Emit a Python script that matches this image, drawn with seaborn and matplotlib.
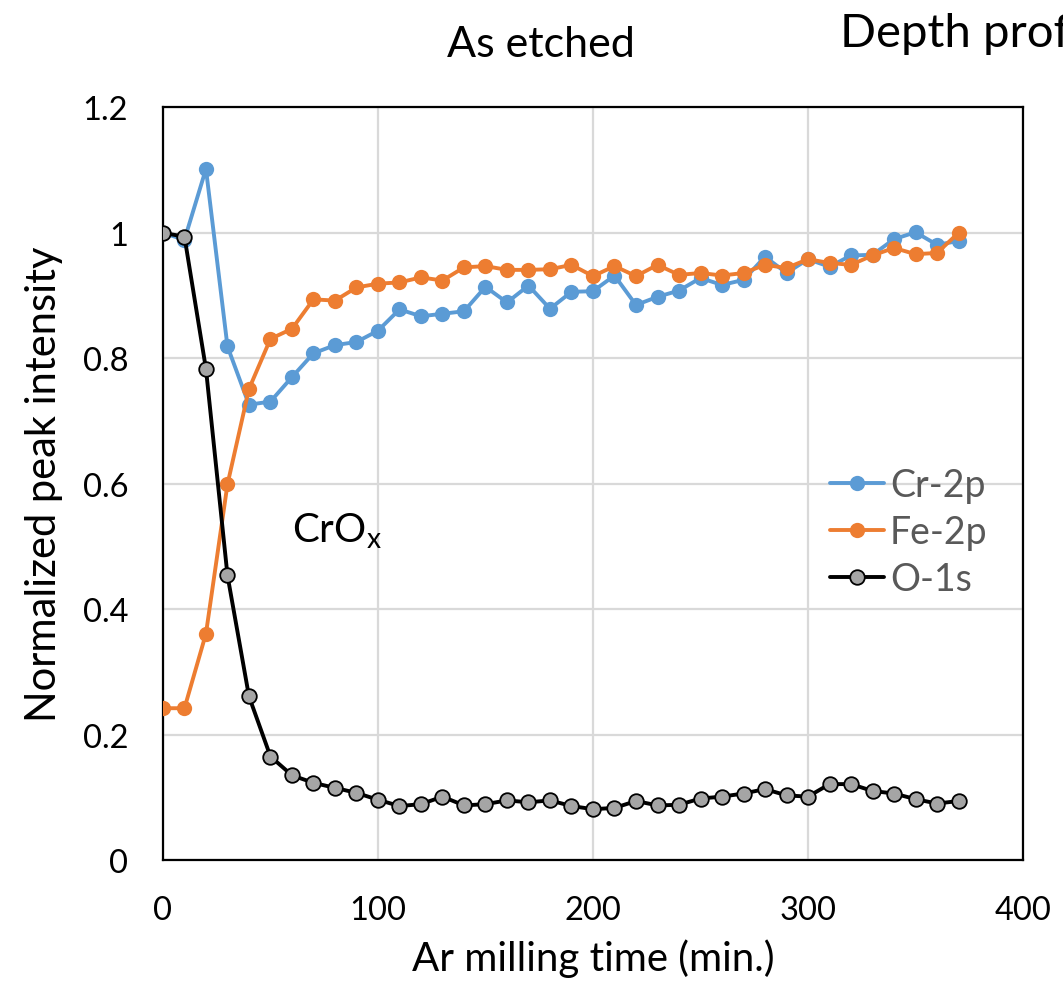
import matplotlib
matplotlib.use("Agg")
import matplotlib.pyplot as plt
import seaborn as sns
import pandas as pd
import numpy as np

time_min = [0, 10, 20, 30, 40, 50, 60, 70, 80, 90, 100, 110, 120, 130, 140, 150, 160, 170, 180,
            190, 200, 210, 220, 230, 240, 250, 260, 270, 280, 290, 300, 310, 320, 330, 340, 350, 360, 370]
cr_2p = [1.000, 0.989, 1.102, 0.819, 0.726, 0.731, 0.770, 0.808, 0.821, 0.826, 0.844, 0.878, 0.867,
         0.871, 0.875, 0.914, 0.889, 0.916, 0.879, 0.906, 0.907, 0.932, 0.885, 0.898, 0.908, 0.928,
         0.917, 0.925, 0.962, 0.936, 0.958, 0.946, 0.964, 0.965, 0.990, 1.001, 0.981, 0.987]
fe_2p = [0.242, 0.242, 0.361, 0.599, 0.751, 0.831, 0.847, 0.894, 0.892, 0.913, 0.919, 0.921, 0.929,
         0.924, 0.945, 0.947, 0.941, 0.941, 0.942, 0.949, 0.931, 0.947, 0.931, 0.949, 0.933, 0.936,
         0.932, 0.936, 0.949, 0.944, 0.958, 0.952, 0.949, 0.964, 0.976, 0.966, 0.968, 1.000]
o_1s = [1.000, 0.994, 0.783, 0.454, 0.261, 0.165, 0.135, 0.123, 0.115, 0.107, 0.096, 0.086, 0.089,
        0.101, 0.087, 0.089, 0.095, 0.092, 0.095, 0.086, 0.081, 0.083, 0.094, 0.087, 0.088, 0.098,
        0.101, 0.106, 0.113, 0.103, 0.101, 0.121, 0.121, 0.110, 0.106, 0.097, 0.090, 0.094]

series_names = ["Cr-2p", "Fe-2p", "O-1s"]
x_ticks = [0, 100, 200, 300, 400]
y_ticks = [0, 0.2, 0.4, 0.6, 0.8, 1.0, 1.2]
y_tick_labels = ["0", "0.2", "0.4", "0.6", "0.8", "1", "1.2"]

sns.set_theme(style="white")
plt.rcParams["font.family"] = ["Lato", "DejaVu Sans"]
plt.rcParams["mathtext.fontset"] = "custom"
plt.rcParams["mathtext.rm"] = "Lato"
plt.rcParams["mathtext.it"] = "Lato"

fig = plt.figure(figsize=(10.63, 9.95), dpi=100)
ax = fig.add_axes([0.1533, 0.1347, 0.8091, 0.7563])

df = pd.DataFrame({"t": time_min, "Cr-2p": cr_2p, "Fe-2p": fe_2p, "O-1s": o_1s})

sns.lineplot(data=df, x="t", y="Cr-2p", ax=ax, color="#5B9BD5", lw=2.8, marker="o",
             markersize=11, markeredgewidth=0, label="Cr-2p", zorder=3)
sns.lineplot(data=df, x="t", y="Fe-2p", ax=ax, color="#ED7D31", lw=2.8, marker="o",
             markersize=11, markeredgewidth=0, label="Fe-2p", zorder=4)
sns.lineplot(data=df, x="t", y="O-1s", ax=ax, color="black", lw=2.8, marker="o",
             markersize=10.5, markerfacecolor="#A5A5A5", markeredgecolor="black",
             markeredgewidth=1.3, label="O-1s", zorder=5)

ax.set_xlim(0, 400)
ax.set_ylim(0, 1.2)
ax.set_xticks(x_ticks)
ax.set_yticks(y_ticks)
ax.set_yticklabels(y_tick_labels)
ax.tick_params(axis="x", labelsize=23.5, colors="black", length=0, pad=25)
ax.tick_params(axis="y", labelsize=23.5, colors="black", length=0, pad=25)
ax.grid(True, color="#D9D9D9", lw=1.6)
ax.set_axisbelow(True)
for s in ax.spines.values():
    s.set_color("black")
    s.set_linewidth(1.6)

ax.set_xlabel("Ar milling time (min.)", fontsize=29, color="black", labelpad=10)
ax.set_ylabel("Normalized peak intensity", fontsize=30, color="black", labelpad=14)

ax.text(60, 0.525, r"CrO$_{\mathrm{x}}$", fontsize=29, color="black", ha="left", va="center")

fig.text(0.509, 0.955, "As etched", fontsize=31, ha="center", va="center", color="black")
fig.text(0.790, 0.966, "Depth profile", fontsize=34, ha="left", va="center", color="black")

leg = ax.legend(loc="center left", bbox_to_anchor=(0.7756, 0.436), frameon=False,
                fontsize=27, handlelength=1.45, handletextpad=0.15, labelspacing=0.3,
                borderaxespad=0, borderpad=0)
for t in leg.get_texts():
    t.set_color("#595959")

fig.savefig("out.png", dpi=100)
